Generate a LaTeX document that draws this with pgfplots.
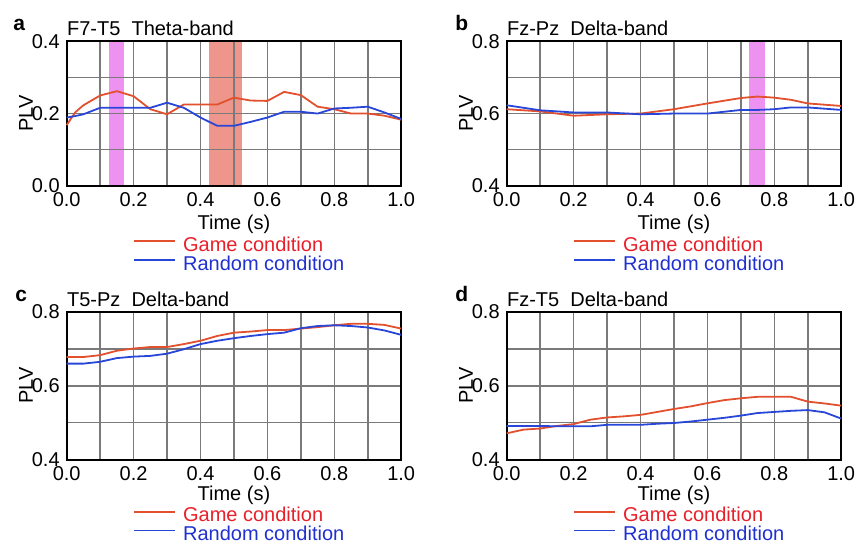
\documentclass[border=0pt]{standalone}
\usepackage{pgfplots}
\pgfplotsset{compat=1.18}
\usepackage{fontspec}
\setmainfont{Liberation Sans}
\definecolor{gline}{HTML}{E2502E}
\definecolor{rline}{HTML}{2846D8}
\definecolor{gtext}{HTML}{E8202A}
\definecolor{rtext}{HTML}{2030D0}
\definecolor{violetband}{HTML}{EE92F2}
\definecolor{salmonband}{HTML}{EE968C}
\definecolor{gridgray}{HTML}{7A7A7A}

\pgfplotstableread{
x game random
0.00 0.168 0.189
0.025 0.203 0.193
0.05 0.223 0.198
0.10 0.250 0.216
0.15 0.262 0.216
0.20 0.248 0.216
0.25 0.212 0.216
0.30 0.198 0.230
0.35 0.225 0.216
0.40 0.225 0.189
0.45 0.225 0.166
0.50 0.244 0.166
0.55 0.236 0.177
0.60 0.235 0.189
0.65 0.260 0.205
0.70 0.251 0.205
0.75 0.219 0.200
0.80 0.212 0.214
0.85 0.200 0.216
0.90 0.200 0.219
0.95 0.194 0.203
1.00 0.183 0.185
}\dataA

\pgfplotstableread{
x game random
0.00 0.612 0.623
0.10 0.606 0.609
0.20 0.594 0.603
0.30 0.598 0.603
0.40 0.600 0.598
0.50 0.612 0.600
0.60 0.628 0.600
0.70 0.643 0.610
0.75 0.647 0.610
0.80 0.644 0.612
0.85 0.638 0.617
0.90 0.628 0.617
1.00 0.621 0.610
}\dataB

\pgfplotstableread{
x game random
0.00 0.678 0.660
0.05 0.678 0.660
0.10 0.683 0.665
0.15 0.695 0.675
0.20 0.701 0.679
0.25 0.705 0.681
0.30 0.705 0.687
0.35 0.713 0.699
0.40 0.722 0.713
0.45 0.735 0.722
0.50 0.744 0.729
0.55 0.747 0.735
0.60 0.751 0.740
0.65 0.751 0.744
0.70 0.755 0.756
0.75 0.759 0.762
0.80 0.764 0.764
0.85 0.768 0.762
0.90 0.768 0.758
0.95 0.765 0.750
1.00 0.755 0.738
}\dataC

\pgfplotstableread{
x game random
0.00 0.471 0.491
0.05 0.481 0.491
0.10 0.484 0.491
0.15 0.491 0.490
0.20 0.496 0.490
0.25 0.508 0.490
0.30 0.514 0.494
0.35 0.517 0.494
0.40 0.521 0.494
0.45 0.529 0.497
0.50 0.537 0.499
0.55 0.544 0.503
0.60 0.553 0.508
0.65 0.561 0.513
0.70 0.566 0.519
0.75 0.570 0.526
0.80 0.570 0.529
0.85 0.570 0.532
0.90 0.557 0.534
0.95 0.552 0.528
1.00 0.546 0.511
}\dataD

\pgfplotsset{
  every axis title shift=0pt,
  panel/.style={
    set layers,
    clip=false,
    scale only axis,
    width=167.25pt,
    xmin=0, xmax=1,
    xtick={0,0.2,0.4,0.6,0.8,1},
    minor xtick={0.1,0.3,0.5,0.7,0.9},
    grid=both,
    grid style={gridgray, line width=0.8pt},
    minor grid style={gridgray, line width=0.8pt},
    major grid style={gridgray, line width=0.8pt},
    major tick length=0pt, minor tick length=0pt,
    axis line style={black, line width=1pt},
    tick label style={font=\fontsize{10}{12}\selectfont},
    /pgf/number format/assume math mode=true,
    /pgf/number format/fixed,
    /pgf/number format/fixed zerofill,
    /pgf/number format/precision=1,
    xlabel={Time (s)}, ylabel={PLV},
    label style={font=\fontsize{10}{12}\selectfont},
    ylabel style={at={([xshift=-20.3pt]axis description cs:0,0.5)}, anchor=center},
    title style={at={(axis description cs:0,1)}, anchor=base west, yshift=2.8pt, inner sep=0pt, font=\fontsize{10}{12}\selectfont},
    legend style={at={(axis description cs:0.18,0)}, anchor=north west, draw=none, fill=none,
      font=\fontsize{10}{12}\selectfont, row sep=0pt, column sep=3.5pt,
      nodes={inner sep=0pt, text height=7.2pt, text depth=2.2pt}},
    legend cell align=left,
    legend image code/.code={\draw[##1, line width=0.9pt] (0pt,2.6pt) -- (20.5pt,2.6pt);},
  },
  toprow/.style={height=72.25pt, xlabel style={at={(axis description cs:0.5,0)}, anchor=base, yshift=-22pt},
    legend style={yshift=-23.4pt}},
  botrow/.style={height=73.75pt, xlabel style={at={(axis description cs:0.5,0)}, anchor=base, yshift=-20.5pt},
    legend style={yshift=-21.8pt}},
  gstyle/.style={gline, line width=0.9pt},
  rstyle/.style={rline, line width=0.9pt},
}

\begin{document}
\begin{tikzpicture}

% panel a
\begin{axis}[panel, toprow, at={(33.35pt,-20.65pt)}, anchor=north west,
  ymin=0, ymax=0.4, ytick={0,0.2,0.4}, minor ytick={0.1,0.3},
  title={F7-T5\ \ Theta-band}]
\addplot[draw=none, fill=violetband, on layer=axis background, forget plot] coordinates {(0.125,0) (0.125,0.4) (0.172,0.4) (0.172,0)};
\addplot[draw=none, fill=salmonband, on layer=axis background, forget plot] coordinates {(0.424,0) (0.424,0.4) (0.523,0.4) (0.523,0)};
\addplot[gstyle] table[x=x, y=game] {\dataA};
\addplot[rstyle] table[x=x, y=random] {\dataA};
\addlegendentry{\textcolor{gtext}{Game condition}}
\addlegendentry{\textcolor{rtext}{Random condition}}
\node[anchor=base west, inner sep=0pt, font=\fontsize{10.5}{12}\selectfont\bfseries] at ([xshift=-26.85pt, yshift=5.4pt]axis description cs:0,1) {a};
\end{axis}

% panel b
\begin{axis}[panel, toprow, at={(253.35pt,-20.65pt)}, anchor=north west,
  ymin=0.4, ymax=0.8, ytick={0.4,0.6,0.8}, minor ytick={0.5,0.7},
  title={Fz-Pz\ \ Delta-band}]
\addplot[draw=none, fill=violetband, on layer=axis background, forget plot] coordinates {(0.724,0.4) (0.724,0.8) (0.771,0.8) (0.771,0.4)};
\addplot[gstyle] table[x=x, y=game] {\dataB};
\addplot[rstyle] table[x=x, y=random] {\dataB};
\addlegendentry{\textcolor{gtext}{Game condition}}
\addlegendentry{\textcolor{rtext}{Random condition}}
\node[anchor=base west, inner sep=0pt, font=\fontsize{10.5}{12}\selectfont\bfseries] at ([xshift=-25.85pt, yshift=5.4pt]axis description cs:0,1) {b};
\end{axis}

% panel c
\begin{axis}[panel, botrow, at={(33.35pt,-156pt)}, anchor=north west,
  ymin=0.4, ymax=0.8, ytick={0.4,0.6,0.8}, minor ytick={0.5,0.7},
  title={T5-Pz\ \ Delta-band}]
\addplot[gstyle] table[x=x, y=game] {\dataC};
\addplot[rstyle] table[x=x, y=random] {\dataC};
\addlegendentry{\textcolor{gtext}{Game condition}}
\addlegendentry{\textcolor{rtext}{Random condition}}
\node[anchor=base west, inner sep=0pt, font=\fontsize{10.5}{12}\selectfont\bfseries] at ([xshift=-25.85pt, yshift=5.4pt]axis description cs:0,1) {c};
\end{axis}

% panel d
\begin{axis}[panel, botrow, at={(253.35pt,-156pt)}, anchor=north west,
  ymin=0.4, ymax=0.8, ytick={0.4,0.6,0.8}, minor ytick={0.5,0.7},
  title={Fz-T5\ \ Delta-band}]
\addplot[gstyle] table[x=x, y=game] {\dataD};
\addplot[rstyle] table[x=x, y=random] {\dataD};
\addlegendentry{\textcolor{gtext}{Game condition}}
\addlegendentry{\textcolor{rtext}{Random condition}}
\node[anchor=base west, inner sep=0pt, font=\fontsize{10.5}{12}\selectfont\bfseries] at ([xshift=-25.85pt, yshift=5.4pt]axis description cs:0,1) {d};
\end{axis}

\pgfresetboundingbox
\useasboundingbox (0,0) rectangle (428.5pt,-270.5pt);
\end{tikzpicture}
\end{document}
